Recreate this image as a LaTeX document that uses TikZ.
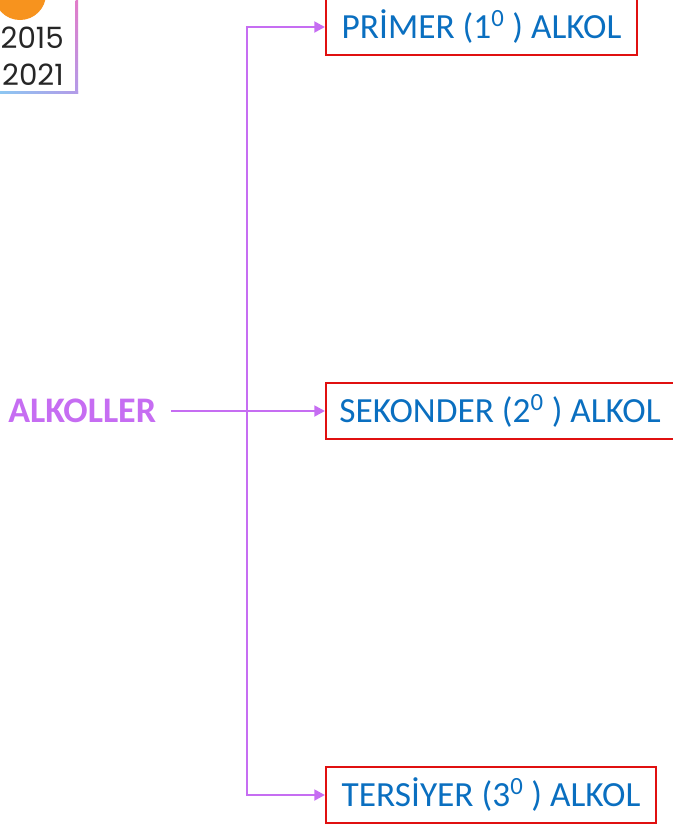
\documentclass[tikz,border=0pt]{standalone}
\usepackage{fontspec}
\setmainfont{Carlito}
\newfontfamily\yearfont{Poppins}
\usetikzlibrary{arrows.meta}
\definecolor{arrowpurple}{HTML}{C66DF2}
\definecolor{boxred}{HTML}{E01010}
\definecolor{textblue}{HTML}{0A6FC0}
\definecolor{badgeorange}{HTML}{F7931E}
\definecolor{edgepink}{HTML}{E37BC8}
\definecolor{edgeviolet}{HTML}{B39BE8}
\definecolor{edgeblue}{HTML}{8CC8F2}
\tikzset{
  kind/.style={draw=boxred, line width=1.6pt, text=textblue, inner xsep=7pt,
    font=\fontsize{26.5}{30}\selectfont, anchor=west, minimum height=42pt},
  arr/.style={draw=arrowpurple, line width=2.2pt, -{Triangle[length=8pt,width=8pt]}},
  year/.style={font=\yearfont\fontsize{22}{26}\selectfont, text=black!85, anchor=east, inner sep=0pt}
}
\begin{document}
\begin{tikzpicture}[x=0.75pt, y=-0.75pt]
\useasboundingbox (0,0) rectangle (672,825);
% corner badge with the years
\fill[badgeorange] (20,-6) circle (26);
\shade[top color=edgepink, bottom color=edgeviolet] (75.5,-2) rectangle (78,93);
\shade[left color=edgeblue, right color=edgeviolet] (-2,91) rectangle (78,93);
\node[year] (y1) at (64,38) {2015};
\node[year] (y2) at (64,75) {2021};
% root term
\node[text=arrowpurple, font=\bfseries\fontsize{27}{31}\selectfont, anchor=west, inner sep=0pt] (alk) at (8,411) {ALKOLLER};
% alcohol classes
\node[kind, minimum width=233.25pt] (pri) at (325,27) {PRİMER (1\textsuperscript{0} ) ALKOL};
\node[kind] (sek) at (325,411) {\makebox[265pt][l]{\hspace{3pt}SEKONDER (2\textsuperscript{0} ) ALKOL}};
\node[kind, minimum width=247.5pt] (ter) at (325,795) {TERSİYER (3\textsuperscript{0} ) ALKOL};
% connectors
\coordinate (fork) at (247,411);
\draw[arr] ([xshift=11pt]alk.east) -- (sek.west);
\draw[arr] (fork) |- (pri.west);
\draw[arr] (fork) |- (ter.west);
\end{tikzpicture}
\end{document}
